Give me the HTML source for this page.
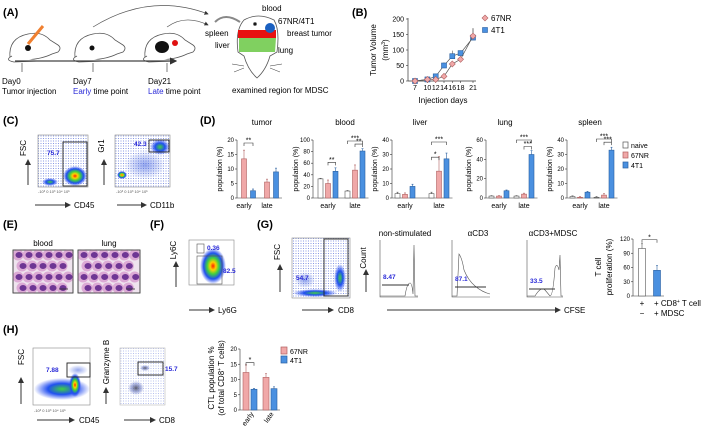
<!DOCTYPE html>
<html><head><meta charset="utf-8">
<style>
html,body{margin:0;padding:0;background:#fff;}
svg{display:block;font-family:"Liberation Sans",Arial,sans-serif;}
.pl{font-weight:bold;font-size:11px;}
.t8{font-size:8px;}
.t7{font-size:7px;}
.t6{font-size:6px;}
.tk{font-size:4px;fill:#555;}
.bl{fill:#2a2ad8;font-weight:bold;font-size:6.5px;}
</style></head>
<body>
<svg id="fig" width="709" height="435" viewBox="0 0 709 435">
<defs>
<radialGradient id="heat"><stop offset="0" stop-color="#ff2000"/><stop offset="0.22" stop-color="#ffd000"/><stop offset="0.45" stop-color="#40d040"/><stop offset="0.72" stop-color="#2050f0"/><stop offset="1" stop-color="#3050f0" stop-opacity="0"/></radialGradient>
<radialGradient id="heat2"><stop offset="0" stop-color="#40d040"/><stop offset="0.5" stop-color="#2050f0"/><stop offset="1" stop-color="#3050f0" stop-opacity="0"/></radialGradient>
<radialGradient id="cloud"><stop offset="0" stop-color="#4060e0" stop-opacity="0.55"/><stop offset="1" stop-color="#4060e0" stop-opacity="0"/></radialGradient>
<radialGradient id="grey"><stop offset="0" stop-color="#334" stop-opacity="0.8"/><stop offset="0.6" stop-color="#6070c0" stop-opacity="0.5"/><stop offset="1" stop-color="#6070c0" stop-opacity="0"/></radialGradient>
<pattern id="dots" width="2.5" height="2.5" patternUnits="userSpaceOnUse"><circle cx="1" cy="1" r="0.55" fill="#3a56d0" opacity="0.75"/></pattern>
<marker id="ah" markerWidth="6" markerHeight="6" refX="5" refY="3" orient="auto"><path d="M0,0 L6,3 L0,6 z" fill="#333"/></marker>
</defs>

<!-- Panel A -->
<g>
<text class="pl" x="3" y="16">(A)</text>
<g fill="#fff" stroke="#555" stroke-width="0.8">
<path d="M10,58 Q8,38 28,34 Q42,31 50,40 L58,45 Q62,48 58,52 L52,54 Q40,60 20,60 Z"/>
<path d="M12,56 Q4,60 14,62 L40,61"/>
<circle cx="28" cy="48" r="3" fill="#111" stroke="none"/>
<line x1="28" y1="44" x2="43" y2="26" stroke="#f08030" stroke-width="3"/>
</g>
<g fill="#fff" stroke="#555" stroke-width="0.8">
<path d="M75,58 Q73,38 93,34 Q107,31 115,40 L123,45 Q127,48 123,52 L117,54 Q105,60 85,60 Z"/>
<path d="M77,56 Q69,60 79,62 L105,61"/>
<circle cx="92" cy="48" r="2.5" fill="#111" stroke="none"/>
</g>
<g fill="#fff" stroke="#555" stroke-width="0.8">
<path d="M145,58 Q143,38 163,34 Q177,31 185,40 L193,45 Q197,48 193,52 L187,54 Q175,60 155,60 Z"/>
<path d="M147,56 Q139,60 149,62 L175,61"/>
<ellipse cx="162" cy="47" rx="7" ry="6" fill="#111" stroke="none"/>
<circle cx="175" cy="43" r="3" fill="#e01010" stroke="none"/>
</g>
<line x1="15" y1="61" x2="176" y2="61" stroke="#444" stroke-width="1.2" marker-end="url(#ah)"/>
<g stroke="#444" stroke-width="0.7">
<line x1="22" y1="72" x2="22" y2="63"/><line x1="93" y1="72" x2="93" y2="63"/><line x1="167" y1="72" x2="167" y2="63"/>
</g>
<text class="t8" x="2" y="84">Day0</text>
<text class="t8" x="2" y="94">Tumor injection</text>
<text class="t8" x="73" y="84">Day7</text>
<text class="t8" x="73" y="94"><tspan fill="#2a2ad8">Early</tspan> time point</text>
<text class="t8" x="148" y="84">Day21</text>
<text class="t8" x="148" y="94"><tspan fill="#2a2ad8">Late</tspan> time point</text>
<path d="M93,27 Q150,-8 208,14" fill="none" stroke="#555" stroke-width="0.7" marker-end="url(#ah)"/>
<path d="M167,27 Q185,14 208,25" fill="none" stroke="#555" stroke-width="0.7" marker-end="url(#ah)"/>
<g stroke="#555" stroke-width="0.8">
<path d="M240,22 Q225,12 215,22" fill="none" stroke="#888" stroke-width="2"/>
<path d="M244,20 Q258,12 274,20 Q280,30 277,52 L270,56 Q266,70 257,78 Q248,70 244,56 L238,52 Q235,30 244,20 Z" fill="#fff"/>
<path d="M238,30 L276,30 L276,38 L238,38 Z" fill="#e81010" stroke="none"/>
<path d="M239,38 L276,38 L275,52 L239,52 Z" fill="#80d060" stroke="none"/>
<circle cx="270" cy="28" r="5" fill="#1a60c0" stroke="none"/>
<circle cx="255" cy="24" r="1.5" fill="#111"/>
<path d="M244,66 L232,64 M244,68 L234,72 M270,66 L282,64 M270,68 L280,72" stroke="#333" stroke-width="0.5"/>
</g>
<g class="t8">
<text x="262" y="11">blood</text>
<text x="278" y="24">67NR/4T1</text>
<text x="287" y="36">breast tumor</text>
<text x="205" y="36">spleen</text>
<text x="215" y="48">liver</text>
<text x="278" y="53">lung</text>
<text x="232" y="93">examined region for MDSC</text>
</g>
</g>

<!-- Panel B -->
<g id="panelB">
<text class="pl" x="352" y="16">(B)</text>
<text class="t8" transform="translate(376,50) rotate(-90)" text-anchor="middle">Tumor Volume</text>
<text class="t8" transform="translate(388,50) rotate(-90)" text-anchor="middle">(mm<tspan font-size="5" dy="-3">3</tspan><tspan dy="3">)</tspan></text>
<text class="t8" x="443" y="103" text-anchor="middle">Injection days</text>
</g>

<!-- Panel C -->
<g>
<text class="pl" x="3" y="124">(C)</text>
<rect x="38" y="135" width="50" height="52" fill="url(#dots)" stroke="#888" stroke-width="0.6"/>
<ellipse cx="75" cy="176" rx="12" ry="10" fill="url(#heat)"/>
<ellipse cx="50" cy="182" rx="8" ry="4" fill="url(#heat2)"/>
<rect x="63" y="142" width="24" height="44" fill="none" stroke="#222" stroke-width="0.9"/>
<text class="bl" x="47" y="155">75.7</text>
<text class="t8" transform="translate(26,148) rotate(-90)" text-anchor="middle">FSC</text>
<line x1="28" y1="185" x2="28" y2="160" stroke="#333" marker-end="url(#ah)"/>
<text class="tk" x="38" y="193">-10³  0  10³  10⁴  10⁵</text>
<line x1="35" y1="205" x2="70" y2="205" stroke="#333" marker-end="url(#ah)"/>
<text class="t8" x="74" y="208">CD45</text>
<rect x="115" y="135" width="55" height="52" fill="url(#dots)" stroke="#888" stroke-width="0.6"/>
<ellipse cx="160" cy="147" rx="10" ry="8" fill="url(#heat2)"/>
<ellipse cx="122" cy="175" rx="5" ry="4" fill="url(#heat)"/>
<ellipse cx="145" cy="165" rx="20" ry="14" fill="url(#cloud)"/>
<rect x="149" y="140" width="20" height="12" fill="none" stroke="#222" stroke-width="0.9"/>
<text class="bl" x="134" y="146">42.3</text>
<text class="t8" transform="translate(104,146) rotate(-90)" text-anchor="middle">Gr1</text>
<line x1="104" y1="185" x2="104" y2="160" stroke="#333" marker-end="url(#ah)"/>
<text class="tk" x="116" y="193">-10³  0  10³  10⁴  10⁵</text>
<line x1="117" y1="205" x2="146" y2="205" stroke="#333" marker-end="url(#ah)"/>
<text class="t8" x="150" y="208">CD11b</text>
</g>

<!-- Panel D -->
<g id="panelD">
<text class="pl" x="200" y="124">(D)</text>
<g class="t7">
<rect x="623" y="142" width="5" height="6" fill="#fff" stroke="#555" stroke-width="0.7"/><text x="631" y="148">naive</text>
<rect x="623" y="152" width="5" height="6" fill="#f0a8a8" stroke="#b06060" stroke-width="0.7"/><text x="631" y="158">67NR</text>
<rect x="623" y="162" width="5" height="6" fill="#4a90e0" stroke="#2a60a0" stroke-width="0.7"/><text x="631" y="168">4T1</text>
</g>
</g>

<!-- Panel E -->
<g id="panelE">
<text class="pl" x="3" y="228">(E)</text>
<text class="t8" x="43" y="246" text-anchor="middle">blood</text>
<text class="t8" x="109" y="246" text-anchor="middle">lung</text>
<rect id="imgBlood" x="13" y="250" width="60" height="43" fill="#efe4ee" stroke="#444" stroke-width="0.8"/>
<rect id="imgLung" x="78" y="250" width="62" height="43" fill="#efe4ee" stroke="#444" stroke-width="0.8"/>
</g>

<!-- Panel F -->
<g>
<text class="pl" x="150" y="228">(F)</text>
<rect x="189" y="240" width="45" height="45" fill="#fff" stroke="#888" stroke-width="0.6"/>
<ellipse cx="213" cy="266" rx="13" ry="18" fill="url(#heat)"/>
<rect x="197" y="256" width="25" height="28" fill="none" stroke="#555" stroke-width="0.6"/>
<rect x="197" y="244" width="7" height="9" fill="none" stroke="#555" stroke-width="0.6"/>
<text class="bl" x="207" y="250">0.36</text>
<text class="bl" x="223" y="273">82.5</text>
<text class="t8" transform="translate(176,250) rotate(-90)" text-anchor="middle">Ly6C</text>
<line x1="176" y1="287" x2="176" y2="262" stroke="#333" marker-end="url(#ah)"/>
<line x1="189" y1="310" x2="214" y2="310" stroke="#333" marker-end="url(#ah)"/>
<text class="t8" x="218" y="313">Ly6G</text>
</g>

<!-- Panel G -->
<g id="panelG">
<text class="pl" x="257" y="228">(G)</text>
<rect x="292" y="238" width="58" height="60" fill="url(#dots)" stroke="#888" stroke-width="0.6"/>
<ellipse cx="315" cy="293" rx="22" ry="4" fill="url(#heat2)"/>
<ellipse cx="340" cy="278" rx="6" ry="14" fill="url(#heat2)"/>
<ellipse cx="305" cy="280" rx="10" ry="8" fill="url(#cloud)"/>
<rect x="324" y="239" width="24" height="57" fill="none" stroke="#222" stroke-width="0.9"/>
<text class="bl" x="296" y="280">54.7</text>
<text class="t8" transform="translate(280,252) rotate(-90)" text-anchor="middle">FSC</text>
<line x1="280" y1="292" x2="280" y2="265" stroke="#333" marker-end="url(#ah)"/>
<line x1="302" y1="310" x2="333" y2="310" stroke="#333" marker-end="url(#ah)"/>
<text class="t8" x="338" y="313">CD8</text>
<text class="t8" x="405" y="236" text-anchor="middle">non-stimulated</text>
<text class="t8" x="478" y="236" text-anchor="middle">αCD3</text>
<text class="t8" x="553" y="236" text-anchor="middle">αCD3+MDSC</text>
<text class="t8" transform="translate(366,258) rotate(-90)" text-anchor="middle">Count</text>
<line x1="366" y1="292" x2="366" y2="270" stroke="#333" marker-end="url(#ah)"/>
<g fill="none" stroke="#555" stroke-width="0.6">
<path d="M380,240 L380,297 L418,297"/><path d="M452,240 L452,297 L490,297"/><path d="M527,240 L527,297 L563,297"/>
<path d="M380,296 L405,296 Q407,283 410,283 Q412,283 413,294 L414,245 L415,296 L418,296"/>
<path d="M452,296 L457,296 L459,254 Q462,258 464,270 Q468,280 475,286 Q482,292 490,294"/>
<path d="M527,296 L535,296 Q541,286 545,290 L550,296 Q553,296 555,268 Q557,262 559,270 L560,255 L561,296 L563,296"/>
</g>
<g stroke="#333" stroke-width="1"><line x1="382" y1="285" x2="409" y2="285"/><line x1="455" y1="287" x2="486" y2="287"/><line x1="529" y1="289" x2="555" y2="289"/></g>
<text class="bl" x="383" y="279">8.47</text>
<text class="bl" x="455" y="281">87.1</text>
<text class="bl" x="530" y="283">33.5</text>
<line x1="387" y1="310" x2="560" y2="310" stroke="#333" marker-end="url(#ah)"/>
<text class="t8" x="564" y="313">CFSE</text>
<text class="t8" transform="translate(601,267) rotate(-90)" text-anchor="middle">T cell</text>
<text class="t8" transform="translate(612,267) rotate(-90)" text-anchor="middle">proliferation (%)</text>
<text class="t8" x="642" y="306" text-anchor="middle">+</text>
<text class="t8" x="654" y="306">+ CD8<tspan font-size="5" dy="-3">+</tspan><tspan dy="3"> T cell</tspan></text>
<text class="t8" x="642" y="316" text-anchor="middle">−</text>
<text class="t8" x="654" y="316">+ MDSC</text>
</g>

<!-- Panel H -->
<g id="panelH">
<text class="pl" x="3" y="333">(H)</text>
<rect x="33" y="348" width="57" height="57" fill="#fff" stroke="#888" stroke-width="0.6"/>
<ellipse cx="62" cy="389" rx="28" ry="11" fill="url(#heat2)"/>
<ellipse cx="75" cy="385" rx="6" ry="12" fill="url(#heat)"/>
<ellipse cx="78" cy="370" rx="10" ry="5" fill="url(#cloud)"/>
<rect x="67" y="363" width="23" height="14" fill="none" stroke="#222" stroke-width="0.9"/>
<text class="bl" x="46" y="372">7.88</text>
<text class="t8" transform="translate(24,357) rotate(-90)" text-anchor="middle">FSC</text>
<line x1="21" y1="404" x2="21" y2="378" stroke="#333" marker-end="url(#ah)"/>
<text class="tk" x="34" y="412">-10³  0  10³  10⁴  10⁵</text>
<line x1="37" y1="420" x2="74" y2="420" stroke="#333" marker-end="url(#ah)"/>
<text class="t8" x="79" y="423">CD45</text>
<rect x="120" y="348" width="45" height="57" fill="url(#dots)" stroke="#888" stroke-width="0.6" opacity="0.6"/>
<ellipse cx="136" cy="388" rx="8" ry="7" fill="url(#grey)"/>
<ellipse cx="145" cy="368" rx="5" ry="3" fill="url(#grey)"/>
<rect x="138" y="362" width="25" height="13" fill="none" stroke="#222" stroke-width="0.9"/>
<text class="bl" x="165" y="371">15.7</text>
<text class="t8" transform="translate(109,362) rotate(-90)" text-anchor="middle">Granzyme B</text>
<line x1="106" y1="404" x2="106" y2="388" stroke="#333" marker-end="url(#ah)"/>
<line x1="124" y1="420" x2="155" y2="420" stroke="#333" marker-end="url(#ah)"/>
<text class="t8" x="159" y="423">CD8</text>
<text class="t8" transform="translate(214,378) rotate(-90)" text-anchor="middle">CTL population %</text>
<text class="t8" transform="translate(224,378) rotate(-90)" text-anchor="middle">(of total CD8<tspan font-size="5" dy="-3">+</tspan><tspan dy="3"> T cells)</tspan></text>
<g class="t7">
<rect x="281" y="347" width="6" height="7" fill="#f0a8a8" stroke="#b06060" stroke-width="0.7"/><text x="290" y="354">67NR</text>
<rect x="281" y="356" width="6" height="7" fill="#4a90e0" stroke="#2a60a0" stroke-width="0.7"/><text x="290" y="363">4T1</text>
</g>
</g>
</svg>
<script>
// ---- Panel B data ----
const bDays=[7,10,12,14,16,18,21];
const b67nr=[0,5,5,15,55,70,145];
const b67nrErr=[2,3,3,8,8,5,25];
const b4t1=[0,5,15,50,80,90,140];
const b4t1Err=[2,3,4,10,18,6,30];
const bTicks=[0,50,100,150,200];
// ---- Panel D data ----
const dTissues=['tumor','blood','liver','lung','spleen'];
const dMax=[20,100,40,60,40];
const dStep=[5,20,10,20,10];
const dNaiveEarly=[null,33,3,2,1];
const dNaiveLate=[null,12,3,2,0.5];
const d67Early=[13.5,25,2.5,2,0.5];
const d67Late=[5.5,48,18.5,4,2];
const d4t1Early=[2.5,46,8,7.5,4];
const d4t1Late=[9,81,27,45,33];
const dErrNaive=[0,1,1,0.5,0.5];
const dErr67=[3,6,1,0.5,0.5];
const dErr4t1=[0.6,6,1.5,0.8,0.6];
const dErr67Late=[1,9,10,1,1];
const dErr4t1Late=[1.3,4,4,4,2];
// ---- Panel G data ----
const gVals=[100,54];
const gErr=[10,10];
const gTicks=[0,30,60,90,120];
// ---- Panel H data ----
const hEarly=[12.3,6.8];
const hLate=[10.7,7];
const hErrEarly=[2.5,0.3];
const hErrLate=[1.2,0.6];
const hTicks=[0,5,10,15,20];

const NS='http://www.w3.org/2000/svg';
function mk(tag,attrs,parent){const e=document.createElementNS(NS,tag);for(const k in attrs)e.setAttribute(k,attrs[k]);parent.appendChild(e);return e;}
const PINK='#f0a8a8',PINKS='#b06060',BLUE='#4a90e0',BLUES='#2a60a0';

// Panel B
(function(){
 const g=document.getElementById('panelB');
 const xB=d=>415+(d-7)*(58/14), yB=v=>81-v*(62/200);
 mk('line',{x1:408,y1:18,x2:408,y2:81,stroke:'#333','stroke-width':0.7},g);
 mk('line',{x1:408,y1:81,x2:476,y2:81,stroke:'#333','stroke-width':0.7},g);
 bTicks.forEach(t=>{mk('line',{x1:406,y1:yB(t),x2:408,y2:yB(t),stroke:'#333','stroke-width':0.6},g);
  const tx=mk('text',{x:404,y:yB(t)+2.5,'text-anchor':'end',class:'t7'},g);tx.textContent=t;});
 bDays.forEach(d=>{mk('line',{x1:xB(d),y1:81,x2:xB(d),y2:83,stroke:'#333','stroke-width':0.6},g);
  const tx=mk('text',{x:xB(d),y:90,'text-anchor':'middle',class:'t7'},g);tx.textContent=d;});
 function series(vals,errs,col,stk,shape,name){
  let dstr='';vals.forEach((v,i)=>{dstr+=(i?'L':'M')+xB(bDays[i])+','+yB(v);});
  const p=mk('path',{d:dstr,fill:'none',stroke:'#555','stroke-width':0.7},g);
  
  
  vals.forEach((v,i)=>{const x=xB(bDays[i]),y=yB(v);
   mk('line',{x1:x,y1:y,x2:x,y2:yB(v+errs[i]),stroke:'#555','stroke-width':0.6},g);
   let m;
   if(shape==='d') m=mk('path',{d:`M${x},${y-3}L${x+3},${y}L${x},${y+3}L${x-3},${y}Z`,fill:col,stroke:stk,'stroke-width':0.6},g);
   else m=mk('rect',{x:x-2.5,y:y-2.5,width:5,height:5,fill:col,stroke:stk,'stroke-width':0.6},g);
   
   
  });
 }
 series(b4t1,b4t1Err,BLUE,BLUES,'s','4t1');
 series(b67nr,b67nrErr,PINK,PINKS,'d','67nr');
 mk('path',{d:'M485,15L488,18L485,21L482,18Z',fill:PINK,stroke:PINKS,'stroke-width':0.6},g);
 let t=mk('text',{x:491,y:21,class:'t8'},g);t.textContent='67NR';
 mk('rect',{x:482.5,y:27.5,width:5,height:5,fill:BLUE,stroke:BLUES,'stroke-width':0.6},g);
 t=mk('text',{x:491,y:33,class:'t8'},g);t.textContent='4T1';
})();

function bar(g,x,w,yTop,yBot,fill,stk,err,name){
 const r=mk('rect',{x:x-w/2,y:yTop,width:w,height:Math.max(0,yBot-yTop),fill:fill,stroke:stk,'stroke-width':0.6},g);
 
 
 if(err!==null){mk('line',{x1:x,y1:yTop,x2:x,y2:yTop-err,stroke:stk,'stroke-width':0.6},g);
  mk('line',{x1:x-1,y1:yTop-err,x2:x+1,y2:yTop-err,stroke:stk,'stroke-width':0.6},g);}
}
function bracket(g,x1,x2,y,lab){
 mk('path',{d:`M${x1},${y+3}L${x1},${y}L${x2},${y}L${x2},${y+3}`,fill:'none',stroke:'#333','stroke-width':0.6},g);
 const t=mk('text',{x:(x1+x2)/2,y:y-0.5,'text-anchor':'middle',class:'t7'},g);t.textContent=lab;
}

// Panel D
(function(){
 const g=document.getElementById('panelD');
 const axisX=[237,313,392,486,567], earlyC=[244,328,405,499,580], lateC=[267,355,439,524,604], titleX=[262,345,420,505,590];
 const yTop=140,yBot=198;
 dTissues.forEach((name,i)=>{
  const y=v=>yBot-v/dMax[i]*(yBot-yTop);
  const sp=i===0?9:7.5;
  let t=mk('text',{x:titleX[i],y:125,'text-anchor':'middle',class:'t8'},g);t.textContent=name;
  mk('line',{x1:axisX[i],y1:yTop,x2:axisX[i],y2:yBot,stroke:'#333','stroke-width':0.6},g);
  mk('line',{x1:axisX[i],y1:yBot,x2:lateC[i]+sp+6,y2:yBot,stroke:'#333','stroke-width':0.6},g);
  for(let v=0;v<=dMax[i];v+=dStep[i]){mk('line',{x1:axisX[i]-2,y1:y(v),x2:axisX[i],y2:y(v),stroke:'#333','stroke-width':0.6},g);
   t=mk('text',{x:axisX[i]-3,y:y(v)+2,'text-anchor':'end',class:'t6'},g);t.textContent=v;}
  t=mk('text',{transform:`translate(${axisX[i]-15},${(yTop+yBot)/2}) rotate(-90)`,'text-anchor':'middle',class:'t7'},g);t.textContent='population (%)';
  t=mk('text',{x:earlyC[i],y:208,'text-anchor':'middle',class:'t7'},g);t.textContent='early';
  t=mk('text',{x:lateC[i],y:208,'text-anchor':'middle',class:'t7'},g);t.textContent='late';
  const groups=[[earlyC[i],dNaiveEarly[i],d67Early[i],d4t1Early[i],dErrNaive[i],dErr67[i],dErr4t1[i]],
                [lateC[i],dNaiveLate[i],d67Late[i],d4t1Late[i],dErrNaive[i],dErr67Late[i],dErr4t1Late[i]]];
  const sc=(yBot-yTop)/dMax[i];
  groups.forEach((gr,k)=>{
   const c=gr[0];const per=k?'late':'early';
   if(gr[1]!==null) bar(g,c-sp,5,y(gr[1]),yBot,'#fff','#555',gr[4]*sc,name+'-'+per+'-naive-bar');
   bar(g,c,5,y(gr[2]),yBot,PINK,PINKS,gr[5]*sc,name+'-'+per+'-67nr-bar');
   bar(g,c+sp,5,y(gr[3]),yBot,BLUE,BLUES,gr[6]*sc,name+'-'+per+'-4t1-bar');
  });
  if(i===0) bracket(g,earlyC[0],earlyC[0]+sp,143,'**');
  if(i===1){bracket(g,earlyC[1],earlyC[1]+sp,y(d4t1Early[1])-9,'**');bracket(g,lateC[1],lateC[1]+sp,y(d4t1Late[1])-7,'**');bracket(g,lateC[1]-sp,lateC[1]+sp,141,'***');}
  if(i===2){bracket(g,lateC[2]-sp,lateC[2],y(d67Late[2])-14,'*');bracket(g,lateC[2]-sp,lateC[2]+sp,142,'***');}
  if(i===3){bracket(g,lateC[3],lateC[3]+sp,y(d4t1Late[3])-8,'***');bracket(g,lateC[3]-sp,lateC[3]+sp,140,'***');}
  if(i===4){bracket(g,lateC[4],lateC[4]+sp,y(d4t1Late[4])-8,'***');bracket(g,lateC[4]-sp,lateC[4]+sp,139,'***');}
 });
})();

// Panel G bar chart
(function(){
 const g=document.getElementById('panelG');
 const ax=633,yTop=239,yBot=296,mx=120,y=v=>yBot-v/mx*(yBot-yTop);
 mk('line',{x1:ax,y1:yTop,x2:ax,y2:yBot,stroke:'#333','stroke-width':0.6},g);
 mk('line',{x1:ax,y1:yBot,x2:664,y2:yBot,stroke:'#333','stroke-width':0.6},g);
 gTicks.forEach(v=>{mk('line',{x1:ax-2,y1:y(v),x2:ax,y2:y(v),stroke:'#333','stroke-width':0.6},g);
  const t=mk('text',{x:ax-3,y:y(v)+2,'text-anchor':'end',class:'t6'},g);t.textContent=v;});
 const sc=(yBot-yTop)/mx;
 bar(g,642,7,y(gVals[0]),yBot,'#fff','#555',gErr[0]*sc,'tcell-alone-bar');
 bar(g,657,7,y(gVals[1]),yBot,BLUE,BLUES,gErr[1]*sc,'tcell-mdsc-bar');
 bracket(g,642,657,y(gVals[0]+gErr[0])-4,'*');
})();

// Panel H bar chart
(function(){
 const g=document.getElementById('panelH');
 const ax=240,yTop=349,yBot=410,mx=20,y=v=>yBot-v/mx*(yBot-yTop),sc=(yBot-yTop)/mx;
 mk('line',{x1:ax,y1:yTop,x2:ax,y2:yBot,stroke:'#333','stroke-width':0.6},g);
 mk('line',{x1:ax,y1:yBot,x2:280,y2:yBot,stroke:'#333','stroke-width':0.6},g);
 hTicks.forEach(v=>{mk('line',{x1:ax-2,y1:y(v),x2:ax,y2:y(v),stroke:'#333','stroke-width':0.6},g);
  const t=mk('text',{x:ax-3,y:y(v)+2,'text-anchor':'end',class:'t6'},g);t.textContent=v;});
 bar(g,246,6,y(hEarly[0]),yBot,PINK,PINKS,hErrEarly[0]*sc,'ctl-early-67nr-bar');
 bar(g,254,6,y(hEarly[1]),yBot,BLUE,BLUES,hErrEarly[1]*sc,'ctl-early-4t1-bar');
 bar(g,266,6,y(hLate[0]),yBot,PINK,PINKS,hErrLate[0]*sc,'ctl-late-67nr-bar');
 bar(g,274,6,y(hLate[1]),yBot,BLUE,BLUES,hErrLate[1]*sc,'ctl-late-4t1-bar');
 bracket(g,246,254,y(15.5),'*');
 let t=mk('text',{transform:'translate(254,414) rotate(-55)','text-anchor':'end',class:'t7'},g);t.textContent='early';
 t=mk('text',{transform:'translate(274,414) rotate(-55)','text-anchor':'end',class:'t7'},g);t.textContent='late';
})();

// Panel E micrograph textures
(function(){
 const g=document.getElementById('panelE');
 [[13,250,60],[78,250,62]].forEach((b,bi)=>{
  for(let r=0;r<4;r++)for(let c=0;c<6;c++){
   const x=b[0]+5+c*(b[2]/6)+((r%2)?4:0), y=b[1]+5+r*11;
   if(x>b[0]+b[2]-3)continue;
   mk('circle',{cx:x,cy:y,r:5.5,fill:'#d8a0d0',opacity:0.85},g);
   mk('ellipse',{cx:x+1,cy:y,rx:3.5,ry:3,fill:'#5a2288',opacity:0.85},g);
  }
  mk('rect',{x:b[0],y:b[1],width:b[2],height:43,fill:'none',stroke:'#444','stroke-width':0.8},g);
  mk('line',{x1:b[0]+b[2]-14,y1:b[1]+39,x2:b[0]+b[2]-5,y2:b[1]+39,stroke:'#333','stroke-width':0.8},g);
 });
})();
</script>
</body></html>
